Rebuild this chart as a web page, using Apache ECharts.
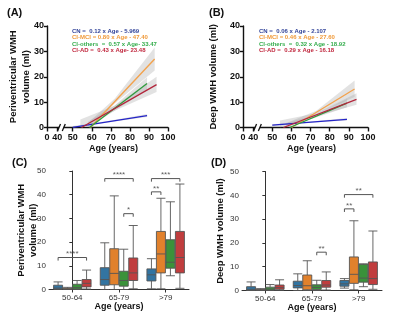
<!DOCTYPE html>
<html>
<head>
<meta charset="utf-8">
<script src="https://cdn.jsdelivr.net/npm/echarts@6/dist/echarts.min.js"></script>
<style>
  html, body { margin: 0; padding: 0; background: #fff; }
  #chart { width: 400px; height: 318px; }
</style>
</head>
<body>
<div id="chart"></div>
<script>
// groups and colours
const groups = ['CN', 'CI-MCI', 'CI-others', 'CI-AD'];
const lineColors = ['#2424c8', '#f3a24c', '#2f9c3d', '#b3263c'];
const eqColors = ['#33459a', '#f09a3a', '#35ad4d', '#c0283e'];
const boxColors = ['#3274a1', '#e1812c', '#3a923a', '#c03d3e'];

// (A) periventricular / (B) deep WMH regression lines: [age, ml] at both ends
const fitA = [[[50, 0.03], [89, 4.7]], [[59.3, 0], [93, 27]], [[58.8, 0], [89, 17.3]], [[54.6, 0], [94, 16.9]]];
const fitB = [[[50, 0.9], [89, 3.2]], [[60, 0], [93, 15.2]], [[59.1, 0], [89, 9.6]], [[55.8, 0], [94, 11.1]]];
// 95% CI bands: [age, low, high]
const bandA = [
  [[50, 0, 0.6], [70, 2.2, 2.8], [89, 4.1, 5.3]],
  [[59, 0, 2.6], [72, 9.5, 11.3], [93, 22.5, 31.5]],
  [[58, 0, 2.3], [72, 6.6, 8.7], [89, 14.8, 19.8]],
  [[54, 0, 3.2], [72, 6.6, 8.6], [94, 14, 20]]
];
const bandB = [
  [[50, 0.5, 1.3], [70, 2.0, 2.4], [89, 2.8, 3.7]],
  [[58, 0, 2.0], [73, 5.4, 6.6], [93, 12, 18.5]],
  [[57, 0, 1.8], [72, 3.7, 4.7], [89, 8, 11.2]],
  [[54, 0, 2.8], [73, 4.5, 5.6], [94, 9, 13.5]]
];
const eqA = ['CN =  0.12 x Age - 5.969', 'CI-MCI = 0.80 x Age - 47.40', 'CI-others  =  0.57 x Age- 33.47', 'CI-AD =  0.43 x Age- 23.48'];
const eqB = ['CN =  0.06 x Age - 2.107', 'CI-MCI = 0.46 x Age - 27.60', 'CI-others  =  0.32 x Age - 18.92', 'CI-AD =  0.29 x Age - 16.18'];
const ageTicks = [0, 40, 50, 60, 70, 80, 90, 100];

// (C) periventricular / (D) deep WMH boxes: [min, Q1, median, Q3, max] per age bin
const ageBins = ['50-64', '65-79', '>79'];
const pvCN = [[0, 0.2, 0.6, 1.8, 3.2], [0, 1.8, 4.2, 9.2, 19.7], [0.3, 3.6, 6.2, 8.7, 13]];
const pvMCI = [[0, 0, 0.2, 0.5, 0.9], [0, 2, 6.8, 17.2, 39.5], [0.3, 7, 15, 24.5, 38.5]];
const pvOthers = [[0, 0.2, 0.8, 2.2, 3.8], [0, 1.4, 3.8, 7.7, 17], [5.8, 9, 11.5, 21, 37]];
const pvAD = [[0.2, 1.1, 2.6, 4.2, 8.2], [0.3, 3.8, 7, 13.3, 27], [0.5, 7, 13.5, 24.5, 44.5]];
const dpCN = [[0, 0.1, 0.5, 1.6, 3.6], [0, 1.1, 2.1, 3.9, 7], [1, 1.8, 2.8, 4.2, 5]];
const dpMCI = [[0, 0, 0.1, 0.4, 0.8], [0, 0.3, 2, 6.5, 12.5], [0.3, 3, 6.8, 14.1, 29.3]];
const dpOthers = [[0, 0.2, 0.6, 1.4, 2.5], [0, 0.4, 1.3, 2.4, 4.3], [1.6, 3.5, 5.2, 11, 11.2]];
const dpAD = [[0.1, 0.5, 1.2, 2.3, 4.5], [0.2, 1.4, 2.3, 4.2, 7.8], [0.5, 2.5, 5, 12, 25]];
// significance: [age bin, group from, group to, height (ml), stars]
const sigC = [[0, 0, 3, 13.5, '****'], [1, 0, 3, 46.8, '****'], [1, 2, 3, 32, '*'], [2, 0, 1, 41.2, '**'], [2, 0, 3, 46.8, '***']];
const sigD = [[1, 2, 3, 16.1, '**'], [2, 0, 1, 34.3, '**'], [2, 0, 3, 40.3, '**']];

const font = 'Liberation Sans, Arial, sans-serif';
const ink = '#111';
const A_MIN = 36.5, B_MIN = 34.7;
const boxOffset = [-0.305, -0.102, 0.102, 0.305];

const chart = echarts.init(document.getElementById('chart'));

function tickPos(min) {
  return ageTicks.map(t => (t === 0 ? min : t === 40 ? min + 5.4 : t));
}

function prismX(gridIndex, min) {
  const pos = tickPos(min);
  return {
    type: 'value', gridIndex: gridIndex, min: min, max: 100,
    axisLine: { show: true, lineStyle: { color: ink, width: 1.4 } },
    axisTick: { show: true, length: 4, customValues: pos, lineStyle: { color: ink, width: 1.4 } },
    axisLabel: {
      customValues: pos, margin: 6, fontSize: 9, fontWeight: 'bold', color: ink, fontFamily: font,
      formatter: v => String(ageTicks[pos.indexOf(v)])
    },
    splitLine: { show: false },
    name: 'Age (years)', nameLocation: 'middle', nameGap: 17,
    nameTextStyle: { fontSize: 9, fontWeight: 'bold', color: ink, fontFamily: font, padding: [0, 0, 0, 12] }
  };
}

function prismY(gridIndex, name, gap) {
  return {
    type: 'value', gridIndex: gridIndex, min: 0, max: 40, interval: 10,
    axisLine: { show: true, lineStyle: { color: ink, width: 1.4 } },
    axisTick: { show: true, length: 3, lineStyle: { color: ink, width: 1.4 } },
    axisLabel: { margin: 3, fontSize: 9, fontWeight: 'bold', color: ink, fontFamily: font },
    splitLine: { show: false },
    name: name, nameLocation: 'middle', nameGap: gap, nameMoveOverlap: false,
    nameTextStyle: { fontSize: 9.5, fontWeight: 'bold', color: ink, fontFamily: font, lineHeight: 13 }
  };
}

function seabornX(gridIndex) {
  return {
    type: 'category', gridIndex: gridIndex, data: ageBins,
    axisLine: { show: true, lineStyle: { color: '#333', width: 1 } },
    axisTick: { show: true, alignWithLabel: true, length: 3, lineStyle: { color: '#333' } },
    axisLabel: { margin: 4, fontSize: 8, color: '#333', fontFamily: font },
    name: 'Age (years)', nameLocation: 'middle', nameGap: 12,
    nameTextStyle: { fontSize: 9, fontWeight: 'bold', color: ink, fontFamily: font }
  };
}

function seabornY(gridIndex, name, gap) {
  return {
    type: 'value', gridIndex: gridIndex, min: 0, max: 50, interval: 10,
    axisLine: { show: true, lineStyle: { color: '#333', width: 1 } },
    axisTick: { show: true, length: 3, lineStyle: { color: '#333' } },
    axisLabel: { margin: 3, fontSize: 8, color: '#333', fontFamily: font },
    splitLine: { show: false },
    name: name, nameLocation: 'middle', nameGap: gap, nameMoveOverlap: false,
    nameTextStyle: { fontSize: 9.5, fontWeight: 'bold', color: ink, fontFamily: font, lineHeight: 12 }
  };
}

function hiddenX(gridIndex) {
  return { type: 'value', gridIndex: gridIndex, min: -0.5, max: 2.5, show: false };
}

function fitSeries(fits, axis) {
  return fits.map((pts, i) => ({
    type: 'line', xAxisIndex: axis, yAxisIndex: axis, data: pts, symbol: 'none',
    lineStyle: { color: lineColors[i], width: 1.3 }, z: 3, silent: true
  }));
}

function bandSeries(bands, axis) {
  return bands.map(b => ({
    type: 'custom', xAxisIndex: axis, yAxisIndex: axis, data: [0], silent: true, z: 2,
    renderItem: (params, api) => {
      const upper = b.map(p => api.coord([p[0], p[2]]));
      const lower = b.map(p => api.coord([p[0], p[1]])).reverse();
      return { type: 'polygon', shape: { points: upper.concat(lower) }, style: { fill: 'rgba(160,160,160,0.3)' } };
    }
  }));
}

function boxSeries(sets, axis) {
  return sets.map((d, i) => ({
    type: 'boxplot', name: groups[i], xAxisIndex: axis, yAxisIndex: axis, data: d,
    boxWidth: [9, 9], silent: true,
    itemStyle: { color: boxColors[i], borderColor: '#555', borderWidth: 0.9 }
  }));
}

function sigSeries(sigs, xAxis, yAxis) {
  const out = [];
  sigs.forEach(([bin, a, b, y, stars]) => {
    const x1 = bin + boxOffset[a];
    const x2 = bin + boxOffset[b];
    out.push({
      type: 'line', xAxisIndex: xAxis, yAxisIndex: yAxis, symbol: 'none', silent: true,
      data: [[x1, y - 1.3], [x1, y], [x2, y], [x2, y - 1.3]],
      lineStyle: { color: '#555', width: 1 }
    });
    out.push({
      type: 'scatter', xAxisIndex: xAxis, yAxisIndex: yAxis, silent: true, z: 5,
      data: [[(x1 + x2) / 2, y]], symbolSize: 1, itemStyle: { color: 'rgba(0,0,0,0)' },
      label: { show: true, position: 'top', distance: -1, formatter: stars, fontSize: 8, color: '#333', fontFamily: font }
    });
  });
  return out;
}

function eqTexts(lines, left) {
  return lines.map((t, i) => ({
    type: 'text', x: left, y: 31 + i * 6.5, silent: true,
    style: { text: t, fill: eqColors[i], font: 'bold 6px ' + font, verticalAlign: 'middle' }
  }));
}

function panelLabel(t, x, y) {
  return { type: 'text', x: x, y: y, style: { text: t, fill: ink, font: 'bold 11px ' + font, verticalAlign: 'middle' } };
}

const option = {
  animation: false,
  grid: [
    { left: 47, top: 26, width: 121, height: 101.5, outerBoundsMode: 'none', containLabel: false },
    { left: 243, top: 26, width: 125, height: 101.5, outerBoundsMode: 'none', containLabel: false },
    { left: 49, top: 171, width: 140, height: 118.5, outerBoundsMode: 'none', containLabel: false },
    { left: 242, top: 171.5, width: 140, height: 119, outerBoundsMode: 'none', containLabel: false }
  ],
  xAxis: [prismX(0, A_MIN), prismX(1, B_MIN), seabornX(2), seabornX(3), hiddenX(2), hiddenX(3)],
  yAxis: [
    prismY(0, 'Periventricular WMH\nvolume (ml)', 14),
    prismY(1, 'Deep WMH volume (ml)', 23),
    seabornY(2, 'Periventricular WMH\nvolume (ml)', 10),
    seabornY(3, 'Deep WMH volume (ml)', 16)
  ],
  series: [].concat(
    bandSeries(bandA, 0), fitSeries(fitA, 0),
    bandSeries(bandB, 1), fitSeries(fitB, 1),
    boxSeries([pvCN, pvMCI, pvOthers, pvAD], 2),
    boxSeries([dpCN, dpMCI, dpOthers, dpAD], 3),
    sigSeries(sigC, 4, 2), sigSeries(sigD, 5, 3)
  ),
  graphic: [].concat(
    eqTexts(eqA, 72), eqTexts(eqB, 259),
    [panelLabel('(A)', 7, 13), panelLabel('(B)', 209, 13), panelLabel('(C)', 12, 163), panelLabel('(D)', 211, 163)]
  )
};

chart.setOption(option);

// axis break marks "//" between 40 and 50 on the Prism axes
function breakMarks(axisIndex, min) {
  const y = chart.convertToPixel({ yAxisIndex: axisIndex }, 0);
  const xa = chart.convertToPixel({ xAxisIndex: axisIndex }, min + 6.3);
  const xb = chart.convertToPixel({ xAxisIndex: axisIndex }, min + 8.8);
  return [
    { type: 'rect', shape: { x: xa, y: y - 3, width: xb - xa, height: 6 }, style: { fill: '#fff' }, z: 100 },
    { type: 'line', shape: { x1: xa - 1.5, y1: y + 3.5, x2: xa + 1.5, y2: y - 3.5 }, style: { stroke: ink, lineWidth: 1.3 }, z: 101 },
    { type: 'line', shape: { x1: xb - 1.5, y1: y + 3.5, x2: xb + 1.5, y2: y - 3.5 }, style: { stroke: ink, lineWidth: 1.3 }, z: 101 }
  ];
}

chart.setOption({ graphic: option.graphic.concat(breakMarks(0, A_MIN), breakMarks(1, B_MIN)) });
</script>
</body>
</html>
